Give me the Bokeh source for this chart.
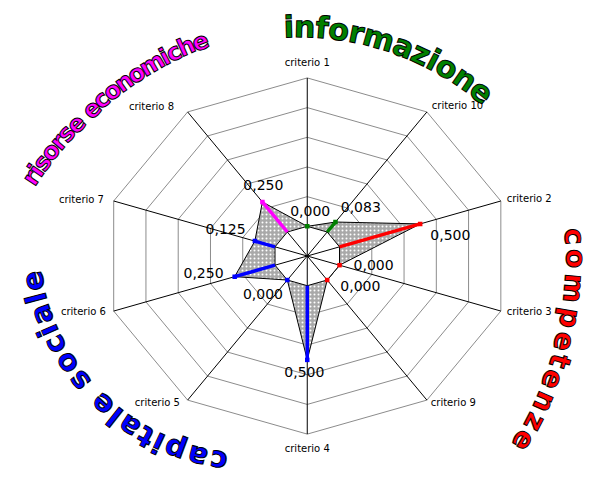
import math
from bokeh.plotting import figure
from bokeh.models import Range1d
from bokeh.embed import file_html
from bokeh.resources import INLINE
from bokeh.core.properties import value

# ---------------- data ----------------
categories = ["criterio 1", "criterio 10", "criterio 2", "criterio 3", "criterio 9",
              "criterio 4", "criterio 5", "criterio 6", "criterio 7", "criterio 8"]
values = [0.000, 0.083, 0.500, 0.000, 0.000, 0.500, 0.000, 0.250, 0.125, 0.250]
line_colors = ["#008000", "#008000", "#ff0000", "#ff0000", "#ff0000",
               "#0000ff", "#0000ff", "#0000ff", "#0000ff", "#ff00ff"]
axis_min, axis_max, axis_step = -0.2, 1.0, 0.2

group_titles = ["informazione", "competenze", "capitale sociale", "risorse economiche"]
group_colors = ["#008000", "#ff0000", "#0000ff", "#ff00ff"]

# ---------------- layout (reference pixels) ----------------
CX, CY = 315.0, 264.0
RX, RY = 209.0, 184.0
N = len(categories)

def frac(v):
    return (v - axis_min) / (axis_max - axis_min)

def pt(f, k):
    th = math.pi / 2 - k * 2 * math.pi / N
    return CX + f * RX * math.cos(th), -CY + f * RY * math.sin(th)

p = figure(width=596, height=482, x_range=Range1d(0, 612), y_range=Range1d(-498, 0),
           output_backend="svg", toolbar_location=None, min_border=0,
           x_axis_type=None, y_axis_type=None)
p.grid.visible = False
p.outline_line_color = None
p.background_fill_color = "white"
p.border_fill_color = "white"

# rings
n_rings = int(round((axis_max - axis_min) / axis_step))
ring_xs, ring_ys = [], []
for i in range(1, n_rings + 1):
    f = i / n_rings
    xs, ys = zip(*[pt(f, k) for k in range(N + 1)])
    ring_xs.append(list(xs)); ring_ys.append(list(ys))
p.multi_line(ring_xs, ring_ys, line_color="#8c8c8c", line_width=1)

# data polygon
poly = [pt(frac(v), k) for k, v in enumerate(values)]
p.patch([q[0] for q in poly], [q[1] for q in poly], fill_color="#a9a9a9",
        hatch_pattern="dot", hatch_color="white", hatch_scale=4, hatch_weight=1,
        line_color="black", line_width=1)
# zero series
zero = [pt(frac(0.0), k) for k in range(N)]
p.patch([q[0] for q in zero], [q[1] for q in zero], fill_color="white",
        line_color="black", line_width=1)

# spokes
outer = [pt(1.0, k) for k in range(N)]
p.segment(x0=[CX] * N, y0=[-CY] * N, x1=[q[0] for q in outer], y1=[q[1] for q in outer],
          line_color="black", line_width=1)

# coloured value bars
p.segment(x0=[q[0] for q in zero], y0=[q[1] for q in zero],
          x1=[q[0] for q in poly], y1=[q[1] for q in poly],
          line_color=line_colors, line_width=3.5)
p.scatter([q[0] for q in poly], [q[1] for q in poly], marker="square", size=4.5,
          fill_color=line_colors, line_color=None)

# value labels
val_off = [(3, 16), (26, 16), (31, -11), (35, 0), (34, -6),
           (-3, -12), (-25, -14), (-32, 4), (-30, 12), (1, 18)]
p.text([q[0] + o[0] for q, o in zip(poly, val_off)],
       [q[1] + o[1] for q, o in zip(poly, val_off)],
       text=[("%.3f" % v).replace(".", ",") for v in values],
       text_align="center", text_baseline="middle", text_font=value("DejaVu Sans"),
       text_font_size="14px", text_color="black")

# category labels
cat_off = [(0, 16, "center"), (5, 7, "left"), (6, 3, "left"), (6, 0, "left"), (4, -2, "left"),
           (0, -15, "center"), (-8, -2, "right"), (-8, 0, "right"), (-10, 2, "right"), (-14, 6, "right")]
for k, (q, o) in enumerate(zip(outer, cat_off)):
    p.text([q[0] + o[0]], [q[1] + o[1]], text=[categories[k]], text_align=o[2],
           text_baseline="middle", text_font=value("DejaVu Sans"),
           text_font_size="10px", text_color="black")

# curved group titles
adv = {"a": .675, "c": .593, "e": .678, "f": .435, "h": .712, "i": .343, "l": .343,
       "m": 1.042, "n": .712, "o": .687, "p": .716, "r": .493, "s": .595, "t": .478,
       "z": .582, " ": .348}
title_arcs = [  # centre x, centre y, radius, first angle, last angle, font px
    (305, 330, 303, 91.7, 51.3, 30),
    (220, 266.5, 370, 3.5, -30.7, 28),
    (260, 248, 231, 261.0, 190.5, 29),
    (343, 387, 372, 146.8, 111.8, 24),
]
for title, col, (ax, ay, R, a0, a1, fs) in zip(group_titles, group_colors, title_arcs):
    cum, centres = 0.0, []
    for ch in title:
        w = adv.get(ch, .6)
        centres.append(cum + w / 2)
        cum += w
    tx, ty, ta, tt = [], [], [], []
    for ch, c in zip(title, centres):
        if ch == " ":
            continue
        f = (c - centres[0]) / (centres[-1] - centres[0])
        ang = math.radians(a0 + f * (a1 - a0))
        tx.append(ax + R * math.cos(ang))
        ty.append(-ay + R * math.sin(ang))
        ta.append(ang - math.pi / 2)
        tt.append(ch)
    p.text(tx, ty, text=tt, angle=ta, text_align="center", text_baseline="middle",
           text_font=value("DejaVu Sans"), text_font_style="bold",
           text_font_size="%dpx" % fs, text_color=col, text_outline_color="black")

open("out.html", "w").write(file_html(p, INLINE))
